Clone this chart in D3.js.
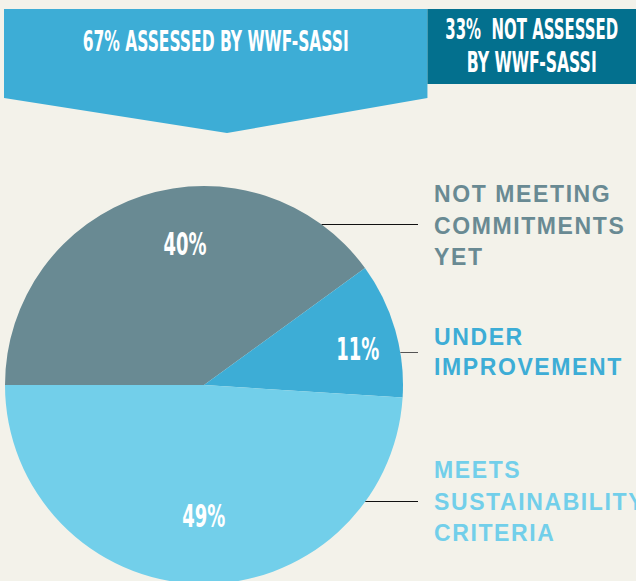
<!DOCTYPE html>
<html>
<head>
<meta charset="utf-8">
<script src="https://cdn.jsdelivr.net/npm/d3@7"></script>
<style>
  html, body { margin: 0; padding: 0; background: #f3f2ea; }
  svg { display: block; }
  .cond { font-family: "Liberation Sans Narrow", "DejaVu Sans Condensed", "Roboto", sans-serif; font-weight: bold; fill: #fff; }
  .cat { font-family: "Liberation Sans", Arial, sans-serif; font-weight: bold; font-size: 23px; letter-spacing: 1.6px; }
</style>
</head>
<body>
<svg id="chart" width="636" height="581"></svg>
<script>
// Top banner: share of products assessed
const assessShares = [67, 33];
const assessLabels = [["67% ASSESSED BY WWF-SASSI"], ["33%  NOT ASSESSED", "BY WWF-SASSI"]];

// Pie: status of the assessed products
const categories = ["NOT MEETING COMMITMENTS YET", "UNDER IMPROVEMENT", "MEETS SUSTAINABILITY CRITERIA"];
const categoryLines = [["NOT MEETING", "COMMITMENTS", "YET"], ["UNDER", "IMPROVEMENT"], ["MEETS", "SUSTAINABILITY", "CRITERIA"]];
const values = [40, 11, 49];
const valueLabels = ["40%", "11%", "49%"];

const colors = ["#698a93", "#3dadd6", "#72cfea"];

const svg = d3.select("#chart");
const W = 636;

// ---- banner ----
const x = d3.scaleLinear().domain([0, 100]).range([4, W]);
const bannerTop = 9;
const cuts = [0, ...d3.cumsum(assessShares)];

// light blue arrow (assessed)
const x0 = x(cuts[0]), x1 = x(cuts[1]);
svg.append("path")
    .attr("d", `M${x0},${bannerTop}H${x1}V98L227,133L${x0},98Z`)
    .attr("fill", "#3dadd6");

svg.append("text")
    .attr("class", "cond")
    .attr("x", (x0 + x1) / 2)
    .attr("y", 51)
    .attr("text-anchor", "middle")
    .attr("font-size", 29)
    .attr("textLength", 266)
    .attr("lengthAdjust", "spacingAndGlyphs")
    .text(assessLabels[0][0]);

// dark box (not assessed)
const x2 = x(cuts[2]);
svg.append("rect")
    .attr("x", x1)
    .attr("y", bannerTop)
    .attr("width", x2 - x1)
    .attr("height", 75)
    .attr("fill", "#03708e");

const notWidths = [173, 130];
assessLabels[1].forEach((t, i) => {
    svg.append("text")
        .attr("class", "cond")
        .attr("x", (x1 + x2) / 2)
        .attr("y", 39 + i * 33)
        .attr("text-anchor", "middle")
        .attr("font-size", 28)
        .attr("textLength", notWidths[i])
        .attr("lengthAdjust", "spacingAndGlyphs")
        .style("white-space", "pre")
        .text(t);
});

// ---- pie ----
const cx = 204, cy = 385, r = 199;
const pie = d3.pie().sort(null).startAngle(-Math.PI / 2).endAngle(1.5 * Math.PI);
const arcs = pie(values);
const arc = d3.arc().innerRadius(0).outerRadius(r);

const g = svg.append("g").attr("transform", `translate(${cx},${cy})`);

g.selectAll("path.slice")
    .data(arcs)
    .enter()
    .append("path")
    .attr("class", "slice")
    .attr("d", arc)
    .attr("fill", (d, i) => colors[i]);

// value labels: polar placement (radius, angle shift) around slice middle
const labelPolar = [[142, 0.18], [158, 0.05], [131, -0.03]];
g.selectAll("text.val")
    .data(arcs)
    .enter()
    .append("text")
    .attr("class", "cond val")
    .attr("font-size", 32)
    .attr("text-anchor", "middle")
    .attr("textLength", 43)
    .attr("lengthAdjust", "spacingAndGlyphs")
    .attr("transform", (d, i) => {
        const a = (d.startAngle + d.endAngle) / 2 + labelPolar[i][1];
        const lr = labelPolar[i][0];
        return `translate(${lr * Math.sin(a)},${-lr * Math.cos(a) + 11})`;
    })
    .text((d, i) => valueLabels[i]);

// ---- category labels with leader lines ----
const labelX = 434;
const leaderY = [224.5, 352.5, 501.5];
const firstBaseline = [202, 345, 478];
const lineStep = [31.5, 29.5, 31.5];
const leaderColors = ["#111", "#555", "#111"];

categoryLines.forEach((lines, i) => {
    const dy = leaderY[i] - cy;
    const edgeX = cx + Math.sqrt(r * r - dy * dy);
    svg.append("line")
        .attr("x1", edgeX)
        .attr("x2", 418)
        .attr("y1", leaderY[i])
        .attr("y2", leaderY[i])
        .attr("stroke", leaderColors[i])
        .attr("stroke-width", 1);

    lines.forEach((t, j) => {
        svg.append("text")
            .attr("class", "cat")
            .attr("x", labelX)
            .attr("y", firstBaseline[i] + j * lineStep[i])
            .attr("fill", colors[i])
            .text(t);
    });
});
</script>
</body>
</html>
